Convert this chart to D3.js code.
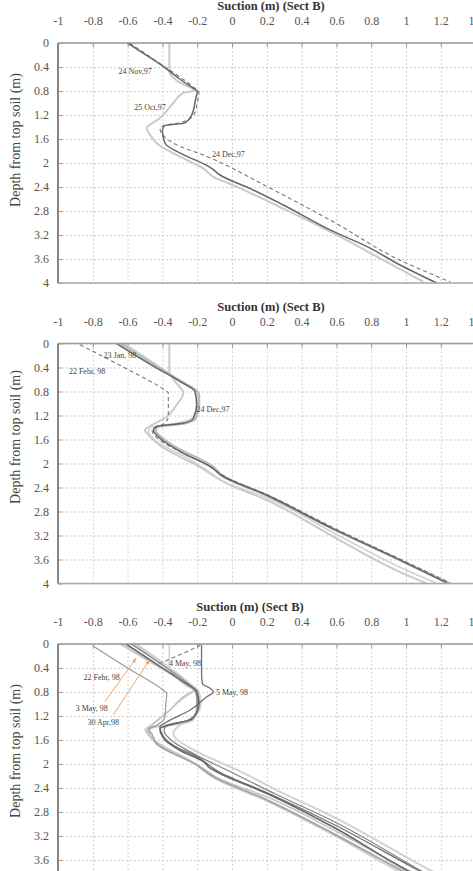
<!DOCTYPE html>
<html>
<head>
<meta charset="utf-8">
<script src="https://cdn.jsdelivr.net/npm/d3@7"></script>
<style>
  body { margin: 0; background: #fff; }
  svg { display: block; }
  text { font-family: "Liberation Serif", "DejaVu Serif", serif; }
</style>
</head>
<body>
<div id="chart"></div>
<script>
// axis ticks
const xTicks = [-1, -0.8, -0.6, -0.4, -0.2, 0, 0.2, 0.4, 0.6, 0.8, 1, 1.2, 1.4];
const xTickLabels = ['-1', '-0.8', '-0.6', '-0.4', '-0.2', '0', '0.2', '0.4', '0.6', '0.8', '1', '1.2', '1.4'];
const yTicks = [0, 0.4, 0.8, 1.2, 1.6, 2, 2.4, 2.8, 3.2, 3.6, 4];
const yTickLabels = ['0', '0.4', '0.8', '1.2', '1.6', '2', '2.4', '2.8', '3.2', '3.6', '4'];

// panel 1 profiles  [suction, depth]
const p1Nov97 = [[-0.60, 0], [-0.50, 0.19], [-0.40, 0.38], [-0.30, 0.6], [-0.22, 0.76], [-0.20, 0.80], [-0.21, 0.95], [-0.23, 1.19], [-0.27, 1.33], [-0.39, 1.38], [-0.40, 1.47], [-0.385, 1.67], [-0.28, 1.86], [-0.145, 2.04], [-0.117, 2.09], [-0.069, 2.2], [0.122, 2.45], [0.295, 2.7], [0.582, 3.14], [0.774, 3.39], [0.966, 3.7], [1.176, 4.0]];
const p1Dec97 = [[-0.59, 0], [-0.40, 0.37], [-0.22, 0.74], [-0.19, 0.82], [-0.20, 1.0], [-0.22, 1.2], [-0.30, 1.33], [-0.385, 1.37], [-0.414, 1.42], [-0.337, 1.67], [-0.145, 1.89], [0.2, 2.39], [0.582, 2.98], [0.966, 3.62], [1.253, 3.98]];
const p1Oct97 = [[-0.36, 0], [-0.36, 0.47], [-0.337, 0.58], [-0.28, 0.69], [-0.23, 0.75], [-0.21, 0.79], [-0.28, 0.83], [-0.337, 1.0], [-0.414, 1.25], [-0.49, 1.42], [-0.471, 1.53], [-0.433, 1.67], [-0.26, 1.95], [-0.165, 2.09], [-0.107, 2.23], [0.006, 2.37], [0.295, 2.76], [0.582, 3.17], [0.87, 3.62], [1.1, 3.98]];

// panel 2 profiles
const p2Jan98 = [[-0.64, 0], [-0.45, 0.35], [-0.30, 0.62], [-0.21, 0.78], [-0.19, 0.84], [-0.19, 1.02], [-0.21, 1.25], [-0.27, 1.33], [-0.42, 1.38], [-0.44, 1.44], [-0.40, 1.58], [-0.33, 1.72], [-0.107, 2.06], [-0.059, 2.2], [0.2, 2.53], [0.582, 3.09], [0.966, 3.61], [1.25, 4.0]];
const p2Dec97 = [[-0.663, 0], [-0.45, 0.38], [-0.30, 0.63], [-0.213, 0.8], [-0.203, 1.02], [-0.223, 1.25], [-0.28, 1.33], [-0.433, 1.38], [-0.452, 1.44], [-0.414, 1.58], [-0.28, 1.83], [-0.126, 2.05], [-0.059, 2.2], [0.2, 2.53], [0.582, 3.09], [0.966, 3.61], [1.234, 3.99]];
const p2Feb98 = [[-0.874, 0.02], [-0.62, 0.4], [-0.375, 0.8], [-0.366, 0.82], [-0.366, 1.22], [-0.40, 1.35], [-0.46, 1.44], [-0.42, 1.6], [-0.3, 1.8], [-0.12, 2.06], [-0.05, 2.2], [0.21, 2.53], [0.59, 3.08], [0.97, 3.6], [1.26, 4.0]];
const p2LightA = [[-0.36, 0], [-0.36, 0.47], [-0.33, 0.62], [-0.28, 0.83], [-0.318, 1.02], [-0.375, 1.22], [-0.471, 1.38], [-0.5, 1.44], [-0.471, 1.55], [-0.414, 1.7], [-0.184, 2.06], [-0.031, 2.33], [0.2, 2.61], [0.582, 3.22], [0.966, 3.81], [1.12, 4.0]];
const p2LightB = [[-0.62, 0], [-0.40, 0.42], [-0.25, 0.72], [-0.20, 0.80], [-0.20, 1.0], [-0.22, 1.22], [-0.32, 1.33], [-0.47, 1.40], [-0.48, 1.46], [-0.44, 1.62], [-0.25, 1.92], [-0.15, 2.1], [-0.05, 2.3], [0.2, 2.57], [0.58, 3.15], [0.96, 3.72], [1.18, 4.0]];

// panel 3 profiles
const p3Feb98 = [[-0.80, 0.03], [-0.60, 0.4], [-0.395, 0.77], [-0.375, 0.82], [-0.38, 1.0], [-0.385, 1.21], [-0.43, 1.35], [-0.48, 1.42], [-0.46, 1.5], [-0.433, 1.66], [-0.203, 2.02], [-0.107, 2.21], [0.2, 2.6], [0.582, 3.16], [0.966, 3.77], [1.12, 4.0]];
const p3LightA = [[-0.64, 0], [-0.45, 0.33], [-0.30, 0.6], [-0.21, 0.8], [-0.20, 1.0], [-0.22, 1.25], [-0.30, 1.33], [-0.44, 1.38], [-0.48, 1.44], [-0.44, 1.62], [-0.21, 2.0], [-0.12, 2.2], [0.19, 2.58], [0.57, 3.14], [0.96, 3.74], [1.14, 4.0]];
const p3Apr30 = [[-0.61, 0], [-0.42, 0.36], [-0.28, 0.63], [-0.20, 0.8], [-0.19, 1.0], [-0.23, 1.25], [-0.33, 1.33], [-0.414, 1.41], [-0.385, 1.6], [-0.3, 1.77], [-0.165, 1.96], [-0.126, 2.07], [-0.069, 2.16], [0.2, 2.49], [0.582, 3.05], [1.004, 3.77], [1.16, 4.0]];
const p3May3 = [[-0.58, 0], [-0.40, 0.35], [-0.27, 0.62], [-0.21, 0.78], [-0.20, 0.9], [-0.20, 1.1], [-0.25, 1.27], [-0.38, 1.36], [-0.39, 1.45], [-0.35, 1.6], [-0.2, 1.86], [-0.03, 2.1], [0.25, 2.5], [0.58, 2.95], [1.05, 3.72], [1.22, 4.0]];
const p3LightB = [[-0.55, 0], [-0.38, 0.35], [-0.25, 0.64], [-0.19, 0.8], [-0.18, 1.0], [-0.21, 1.2], [-0.29, 1.33], [-0.337, 1.49], [-0.184, 1.82], [0.008, 2.07], [0.295, 2.49], [0.582, 2.88], [1.1, 3.71], [1.29, 4.0]];
const p3LightC = [[-0.57, 0], [-0.40, 0.32], [-0.27, 0.6], [-0.22, 0.76], [-0.28, 0.88], [-0.356, 1.1], [-0.471, 1.38], [-0.49, 1.43], [-0.45, 1.6], [-0.3, 1.85], [-0.16, 2.08], [-0.09, 2.22], [0.21, 2.56], [0.585, 3.1], [0.98, 3.72], [1.17, 4.0]];
const p3May4 = [[-0.18, 0.02], [-0.30, 0.18], [-0.42, 0.33]];
const p3May5 = [[-0.175, 0.02], [-0.175, 0.5], [-0.17, 0.66], [-0.12, 0.75], [-0.107, 0.8], [-0.145, 0.88], [-0.24, 1.1], [-0.375, 1.3], [-0.414, 1.38], [-0.395, 1.54], [-0.33, 1.7], [-0.2, 1.88], [-0.08, 2.12], [0.22, 2.5], [0.58, 3.0], [1.05, 3.74], [1.22, 4.0]];
const p3LightD = [[-0.36, 0], [-0.36, 0.35], [-0.34, 0.5], [-0.27, 0.68], [-0.22, 0.78], [-0.26, 0.86], [-0.32, 1.0], [-0.40, 1.2], [-0.47, 1.36], [-0.50, 1.42], [-0.47, 1.55], [-0.43, 1.68], [-0.2, 2.02], [-0.1, 2.24], [0.2, 2.62], [0.58, 3.18], [0.95, 3.78], [1.1, 4.0]];

// date labels  [text, suction, depth]
const p1Labels = [['24 Nov,97', -0.557, 0.47], ['25 Oct,97', -0.471, 1.07], ['24 Dec,97', -0.021, 1.85]];
const p2Labels = [['23 Jan, 98', -0.644, 0.19], ['22 Febr, 98', -0.833, 0.46], ['24 Dec,97', -0.109, 1.09]];
const p3Labels = [['22 Febr, 98', -0.749, 0.545], ['4 May, 98', -0.27, 0.31], ['5 May, 98', 0.0, 0.795], ['3 May, 98', -0.806, 1.07], ['30 Apr,98', -0.74, 1.295]];
// orange leader arrows [fromS, fromD, toS, toD]
const p3Arrows = [[-0.73, 0.96, -0.552, 0.24], [-0.682, 1.18, -0.475, 0.27]];

const light = { stroke: '#cacaca', width: 2 };
const dark = { stroke: '#666', width: 1.5 };
const dashed = { stroke: '#777', width: 1.1, dash: '4,3' };

const panels = [
    {
        top: 43, titleX: 271, yLabelY: 140,
        lines: [[p1Oct97, light], [p1Dec97, dashed], [p1Nov97, dark]],
        labels: p1Labels, arrows: []
    },
    {
        top: 343.5, titleX: 271, yLabelY: 437,
        lines: [[p2LightA, light], [p2LightB, { stroke: '#d2d2d2', width: 1.6 }], [p2Jan98, { stroke: '#bbb', width: 2.6 }],
            [p2Feb98, dashed], [p2Dec97, dark]],
        labels: p2Labels, arrows: []
    },
    {
        top: 644, titleX: 250, yLabelY: 751,
        lines: [[p3LightD, { stroke: '#d0d0d0', width: 1.6 }], [p3LightC, { stroke: '#c4c4c4', width: 1.6 }],
            [p3LightB, { stroke: '#d2d2d2', width: 2 }], [p3LightA, { stroke: '#c6c6c6', width: 2 }],
            [p3Feb98, { stroke: '#9a9a9a', width: 1.2 }], [p3May3, { stroke: '#858585', width: 1.3 }],
            [p3May5, { stroke: '#707070', width: 1.3 }], [p3May4, dashed], [p3Apr30, { stroke: '#666', width: 1.6 }]],
        labels: p3Labels, arrows: p3Arrows
    }
];

const width = 473, height = 871;
const plotH = 240;

const svg = d3.select('#chart')
    .append('svg')
    .attr('width', width)
    .attr('height', height);

svg.append('defs').append('marker')
    .attr('id', 'arrow')
    .attr('viewBox', '0 0 10 10')
    .attr('refX', 9).attr('refY', 5)
    .attr('markerWidth', 5).attr('markerHeight', 5)
    .attr('orient', 'auto')
    .append('path')
    .attr('d', 'M0,1 L10,5 L0,9 Z')
    .attr('fill', '#f0a468');

const x = d3.scaleLinear().domain([-1, 1.4]).range([58, 475.6]);

panels.forEach(function (p, i) {
    const y = d3.scaleLinear().domain([0, 4]).range([p.top, p.top + plotH]);
    const g = svg.append('g');

    // dashed grid
    g.append('g')
        .attr('transform', 'translate(0,' + p.top + ')')
        .call(d3.axisTop(x).tickValues(xTicks).tickSize(-plotH).tickFormat(''))
        .call(s => s.select('.domain').remove())
        .selectAll('line')
        .attr('stroke', '#cfcfcf')
        .attr('stroke-dasharray', '2,2');
    g.append('g')
        .attr('transform', 'translate(58,0)')
        .call(d3.axisLeft(y).tickValues(yTicks).tickSize(-(width - 58)).tickFormat(''))
        .call(s => s.select('.domain').remove())
        .selectAll('line')
        .attr('stroke', '#cfcfcf')
        .attr('stroke-dasharray', '2,2');

    // small inward ticks on frame
    g.append('g')
        .attr('transform', 'translate(0,' + p.top + ')')
        .call(d3.axisTop(x).tickValues(xTicks).tickSize(-4).tickFormat(''))
        .call(s => s.select('.domain').remove())
        .selectAll('line').attr('stroke', '#999');
    g.append('g')
        .attr('transform', 'translate(58,0)')
        .call(d3.axisLeft(y).tickValues(yTicks).tickSize(-4).tickFormat(''))
        .call(s => s.select('.domain').remove())
        .selectAll('line').attr('stroke', '#999');

    // tick labels
    g.append('g')
        .attr('transform', 'translate(0,' + p.top + ')')
        .call(d3.axisTop(x).tickValues(xTicks).tickSize(0).tickPadding(18).tickFormat((d, k) => xTickLabels[k]))
        .call(s => s.select('.domain').remove())
        .selectAll('text')
        .attr('font-family', '"Liberation Serif", serif')
        .attr('font-size', '12px')
        .attr('fill', '#555');
    g.append('g')
        .attr('transform', 'translate(58,0)')
        .call(d3.axisLeft(y).tickValues(yTicks).tickSize(0).tickPadding(9).tickFormat((d, k) => yTickLabels[k]))
        .call(s => s.select('.domain').remove())
        .selectAll('text')
        .attr('font-family', '"Liberation Serif", serif')
        .attr('font-size', '12px')
        .attr('fill', '#555');

    // title
    g.append('text')
        .attr('x', p.titleX)
        .attr('y', p.top - 33)
        .attr('text-anchor', 'middle')
        .attr('font-size', '12.5px')
        .attr('font-weight', 'bold')
        .attr('fill', '#333')
        .text('Suction (m) (Sect B)');

    // y axis label
    g.append('text')
        .attr('transform', 'translate(20,' + p.yLabelY + ') rotate(-90)')
        .attr('text-anchor', 'middle')
        .attr('font-size', '14px')
        .attr('fill', '#444')
        .text('Depth from top soil (m)');

    // clip for profiles
    const clipId = 'clip' + i;
    svg.select('defs').append('clipPath')
        .attr('id', clipId)
        .append('rect')
        .attr('x', 58).attr('y', p.top - 1)
        .attr('width', width - 58).attr('height', plotH + 2);

    const line = d3.line()
        .x(d => x(d[0]))
        .y(d => y(d[1]))
        .curve(d3.curveMonotoneY);

    g.append('g')
        .attr('clip-path', 'url(#' + clipId + ')')
        .selectAll('path')
        .data(p.lines)
        .enter()
        .append('path')
        .attr('d', d => line(d[0]))
        .attr('fill', 'none')
        .attr('stroke', d => d[1].stroke)
        .attr('stroke-width', d => d[1].width)
        .attr('stroke-dasharray', d => d[1].dash || null)
        .attr('stroke-linejoin', 'round');

    // frame
    g.append('line')
        .attr('x1', 58).attr('x2', width)
        .attr('y1', p.top).attr('y2', p.top)
        .attr('stroke', '#999').attr('stroke-width', 1.5);
    g.append('line')
        .attr('x1', 58).attr('x2', width)
        .attr('y1', y(4)).attr('y2', y(4))
        .attr('stroke', '#aaa').attr('stroke-width', 1.5);
    g.append('line')
        .attr('x1', 58).attr('x2', 58)
        .attr('y1', p.top).attr('y2', y(4))
        .attr('stroke', '#888').attr('stroke-width', 2);

    // orange leader arrows
    g.selectAll('.arrow')
        .data(p.arrows)
        .enter()
        .append('line')
        .attr('class', 'arrow')
        .attr('x1', d => x(d[0])).attr('y1', d => y(d[1]))
        .attr('x2', d => x(d[2])).attr('y2', d => y(d[3]))
        .attr('stroke', '#f0a468')
        .attr('stroke-width', 1)
        .attr('marker-end', 'url(#arrow)');

    // date labels
    g.selectAll('.lbl')
        .data(p.labels)
        .enter()
        .append('text')
        .attr('class', 'lbl')
        .attr('x', d => x(d[1]))
        .attr('y', d => y(d[2]) + 3)
        .attr('text-anchor', 'middle')
        .attr('font-size', '8px')
        .attr('fill', '#444')
        .text(d => d[0]);
});
</script>
</body>
</html>
